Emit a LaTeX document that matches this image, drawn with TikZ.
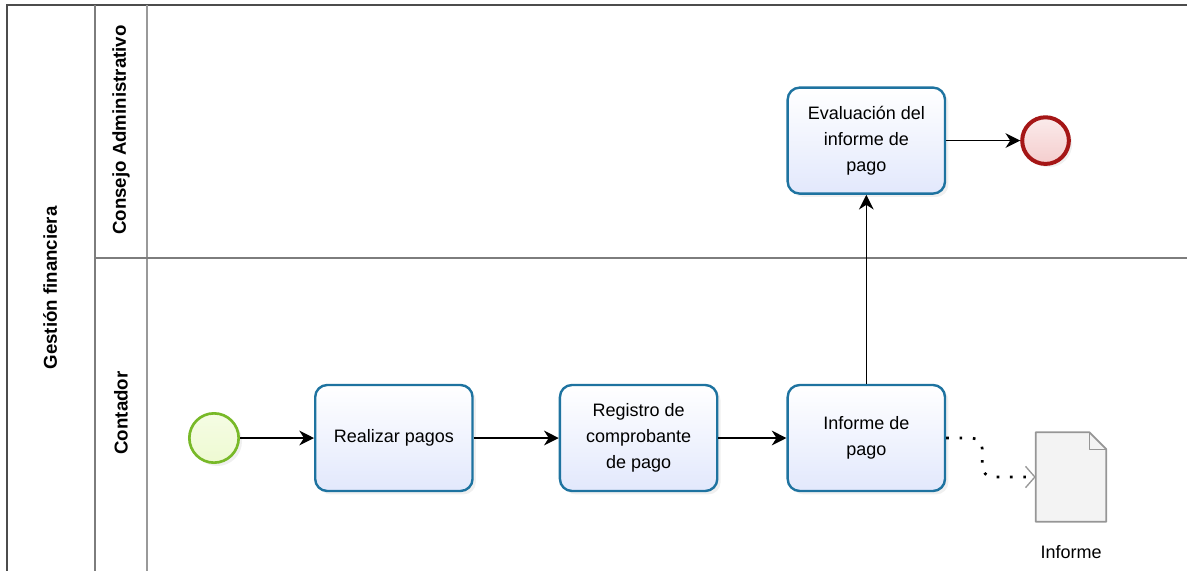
\documentclass[tikz,border=0pt]{standalone}
\usepackage{fontspec}
\setmainfont{Liberation Sans}
\usepackage{xcolor}
\usepackage{tikz}
\usetikzlibrary{arrows.meta, positioning, calc, shadows}

\definecolor{taskline}{RGB}{30,115,160}
\definecolor{taskfill}{RGB}{226,232,252}
\definecolor{startline}{RGB}{120,185,40}
\definecolor{startfill}{RGB}{238,250,210}
\definecolor{endline}{RGB}{165,22,22}
\definecolor{endfill}{RGB}{244,205,205}
\definecolor{laneline}{RGB}{125,125,125}
\definecolor{docline}{RGB}{150,150,150}
\definecolor{docfill}{RGB}{243,243,243}

\tikzset{
    task/.style={
        rectangle,
        rounded corners=9pt,
        draw=taskline,
        line width=1.8pt,
        top color=white,
        bottom color=taskfill,
        minimum width=118pt,
        minimum height=79.5pt,
        align=center,
        font=\fontsize{13.5}{19.5}\selectfont,
        drop shadow={opacity=0.12, shadow xshift=2.5pt, shadow yshift=-2.5pt}
    },
    startevent/.style={
        circle,
        draw=startline,
        line width=2pt,
        top color=startfill!60!white,
        bottom color=startfill,
        minimum size=37pt,
        drop shadow={opacity=0.12, shadow xshift=2.5pt, shadow yshift=-2.5pt}
    },
    endevent/.style={
        circle,
        draw=endline,
        line width=3pt,
        top color=endfill!40!white,
        bottom color=endfill,
        minimum size=35pt,
        drop shadow={opacity=0.12, shadow xshift=2.5pt, shadow yshift=-2.5pt}
    },
    flow/.style={
        draw=black,
        line width=1.1pt,
        -{Stealth[length=11pt, width=11pt, inset=3.5pt]}
    },
    assoc/.style={
        draw=black,
        line width=2pt,
        dash pattern=on 2pt off 8pt,
        rounded corners=8pt,
        -{Straight Barb[length=7pt, width=16pt, line width=1pt, color=docline]}
    },
    lane/.style={
        draw=laneline,
        line width=1.5pt
    },
    lanelabel/.style={
        rotate=90,
        font=\fontsize{14}{16}\bfseries
    },
    dataobj/.style={
        rectangle,
        minimum width=52.5pt,
        minimum height=66.75pt
    }
}

\begin{document}
\begin{tikzpicture}[x=0.75pt, y=-0.75pt]
\useasboundingbox (0,0) rectangle (1187,571);

% Pool and lanes
\draw[lane, draw=black!70, line width=1.8pt] (1187,5) -- (7,5) -- (7,571);
\draw[lane] (95,5) -- (95,571);
\draw[lane, draw=black!40] (147,5) -- (147,571);
\draw[lane] (95,258) -- (1187,258);

\node[lanelabel] (pool) at (50,288) {Gestión financiera};
\node[lanelabel] (lane_consejo) at (121,130) {Consejo Administrativo};
\node[lanelabel] (lane_contador) at (121,413) {Contador};

% Contador lane
\node[startevent] (start) at (214,438) {};
\node[task, right=55.5pt of start] (pagos) {Realizar pagos};
\node[task, right=63.75pt of pagos] (registro) {Registro de\\comprobante\\de pago};
\node[task, right=51pt of registro] (informe) {Informe de\\pago};

% Consejo Administrativo lane
\node[task, above=141.75pt of informe] (evaluacion) {Evaluación del\\informe de\\pago};
\node[endevent, right=55.5pt of evaluacion] (finish) {};

% Data object
\node[dataobj] (doc) at (1071,477) {};
\filldraw[fill=docfill, draw=docline, line width=1.3pt, line join=round]
    (doc.north west) -- ($(doc.north east)+(-17,0)$) -- ($(doc.north east)+(0,17)$)
    -- (doc.south east) -- (doc.south west) -- cycle;
\draw[docline, line width=1.1pt, line join=round]
    ($(doc.north east)+(-17,0)$) -- ($(doc.north east)+(-17,17)$) -- ($(doc.north east)+(0,17)$);
\node[below=14pt of doc, font=\fontsize{13.5}{16}\selectfont] (doc_label) {Informe};

% Sequence flows
\draw[flow] (start) -- (pagos);
\draw[flow] (pagos) -- (registro);
\draw[flow] (registro) -- (informe);
\draw[flow] (informe) -- (evaluacion);
\draw[flow] (evaluacion) -- (finish);

% Association to the data object
\draw[assoc] (informe.east) -- ++(36,0) |- (doc.west);

\end{tikzpicture}
\end{document}
